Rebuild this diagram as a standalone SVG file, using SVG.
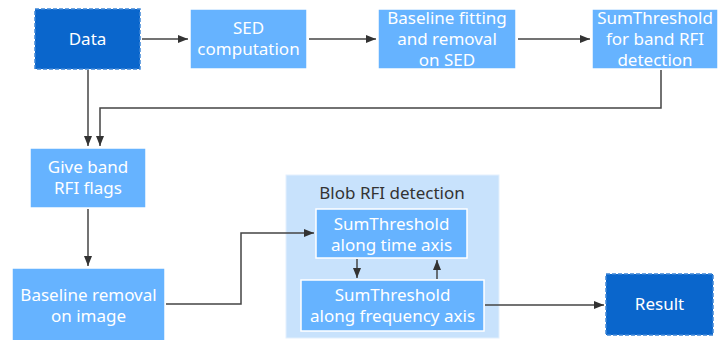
<svg xmlns="http://www.w3.org/2000/svg" width="720" height="340" viewBox="0 0 720 340">
<defs>
<marker id="ah" viewBox="0 0 10 10" refX="10" refY="5" markerWidth="10" markerHeight="10" markerUnits="userSpaceOnUse" orient="auto">
<path d="M0,1 L10,5 L0,9 z" fill="#333"/>
</marker>
<style>
.dark{fill:#0A66CC;stroke:#3F86D6;stroke-width:1.5;stroke-dasharray:4 2}
.light{fill:#66B3FF;stroke:#fff;stroke-width:1.5}
.cont{fill:#C8E2FC;stroke:#E3F0FD;stroke-width:1}
.t{font-family:"Noto Sans","Open Sans",sans-serif;font-size:17px;fill:#fff;text-anchor:middle}
.title{font-family:"Noto Sans","Open Sans",sans-serif;font-size:17px;fill:#333;text-anchor:middle}
.c{fill:none;stroke:#444;stroke-width:1.5;marker-end:url(#ah)}
</style>
</defs>
<rect width="720" height="340" fill="#fff"/>
<g id="blob">
<rect class="cont" x="286" y="175" width="213" height="163"/>
<text class="title" x="392" y="199">Blob RFI detection</text>
</g>
<g id="data">
<rect class="dark" x="35" y="9" width="105" height="60"/>
<text class="t" x="87.5" y="45">Data</text>
</g>
<g id="sed">
<rect class="light" x="190" y="9" width="117" height="60"/>
<text class="t" x="248.5" y="34">SED</text>
<text class="t" x="248.5" y="55">computation</text>
</g>
<g id="baseline-fit">
<rect class="light" x="378" y="9" width="138" height="60"/>
<text class="t" x="447" y="24">Baseline fitting</text>
<text class="t" x="447" y="45">and removal</text>
<text class="t" x="447" y="66">on SED</text>
</g>
<g id="sum-band">
<rect class="light" x="592" y="9" width="126" height="60"/>
<text class="t" x="655" y="24">SumThreshold</text>
<text class="t" x="655" y="45">for band RFI</text>
<text class="t" x="655" y="66">detection</text>
</g>
<g id="give-band">
<rect class="light" x="30" y="148" width="116" height="60"/>
<text class="t" x="88" y="173">Give band</text>
<text class="t" x="88" y="194">RFI flags</text>
</g>
<g id="baseline-img">
<rect class="light" x="12" y="268" width="153" height="74"/>
<text class="t" x="88.5" y="301">Baseline removal</text>
<text class="t" x="88.5" y="322">on image</text>
</g>
<g id="sum-time">
<rect class="light" x="316" y="209" width="151" height="49"/>
<text class="t" x="391.5" y="230">SumThreshold</text>
<text class="t" x="391.5" y="251">along time axis</text>
</g>
<g id="sum-freq">
<rect class="light" x="301" y="280" width="183" height="51"/>
<text class="t" x="392.5" y="301">SumThreshold</text>
<text class="t" x="392.5" y="322">along frequency axis</text>
</g>
<g id="result">
<rect class="dark" x="606" y="274" width="107" height="61"/>
<text class="t" x="659.5" y="310">Result</text>
</g>
<g id="connectors">
<path class="c" d="M142,39 H188"/>
<path class="c" d="M309,39 H376"/>
<path class="c" d="M518,39 H590"/>
<path class="c" d="M88,70 V146"/>
<path class="c" d="M661,70 V108 H100 V146"/>
<path class="c" d="M88,209 V266"/>
<path class="c" d="M166,304 H241 V233 H314"/>
<path class="c" d="M357,259 V278"/>
<path class="c" d="M437,279 V260"/>
<path class="c" d="M485,305 H604"/>
</g>
</svg>
